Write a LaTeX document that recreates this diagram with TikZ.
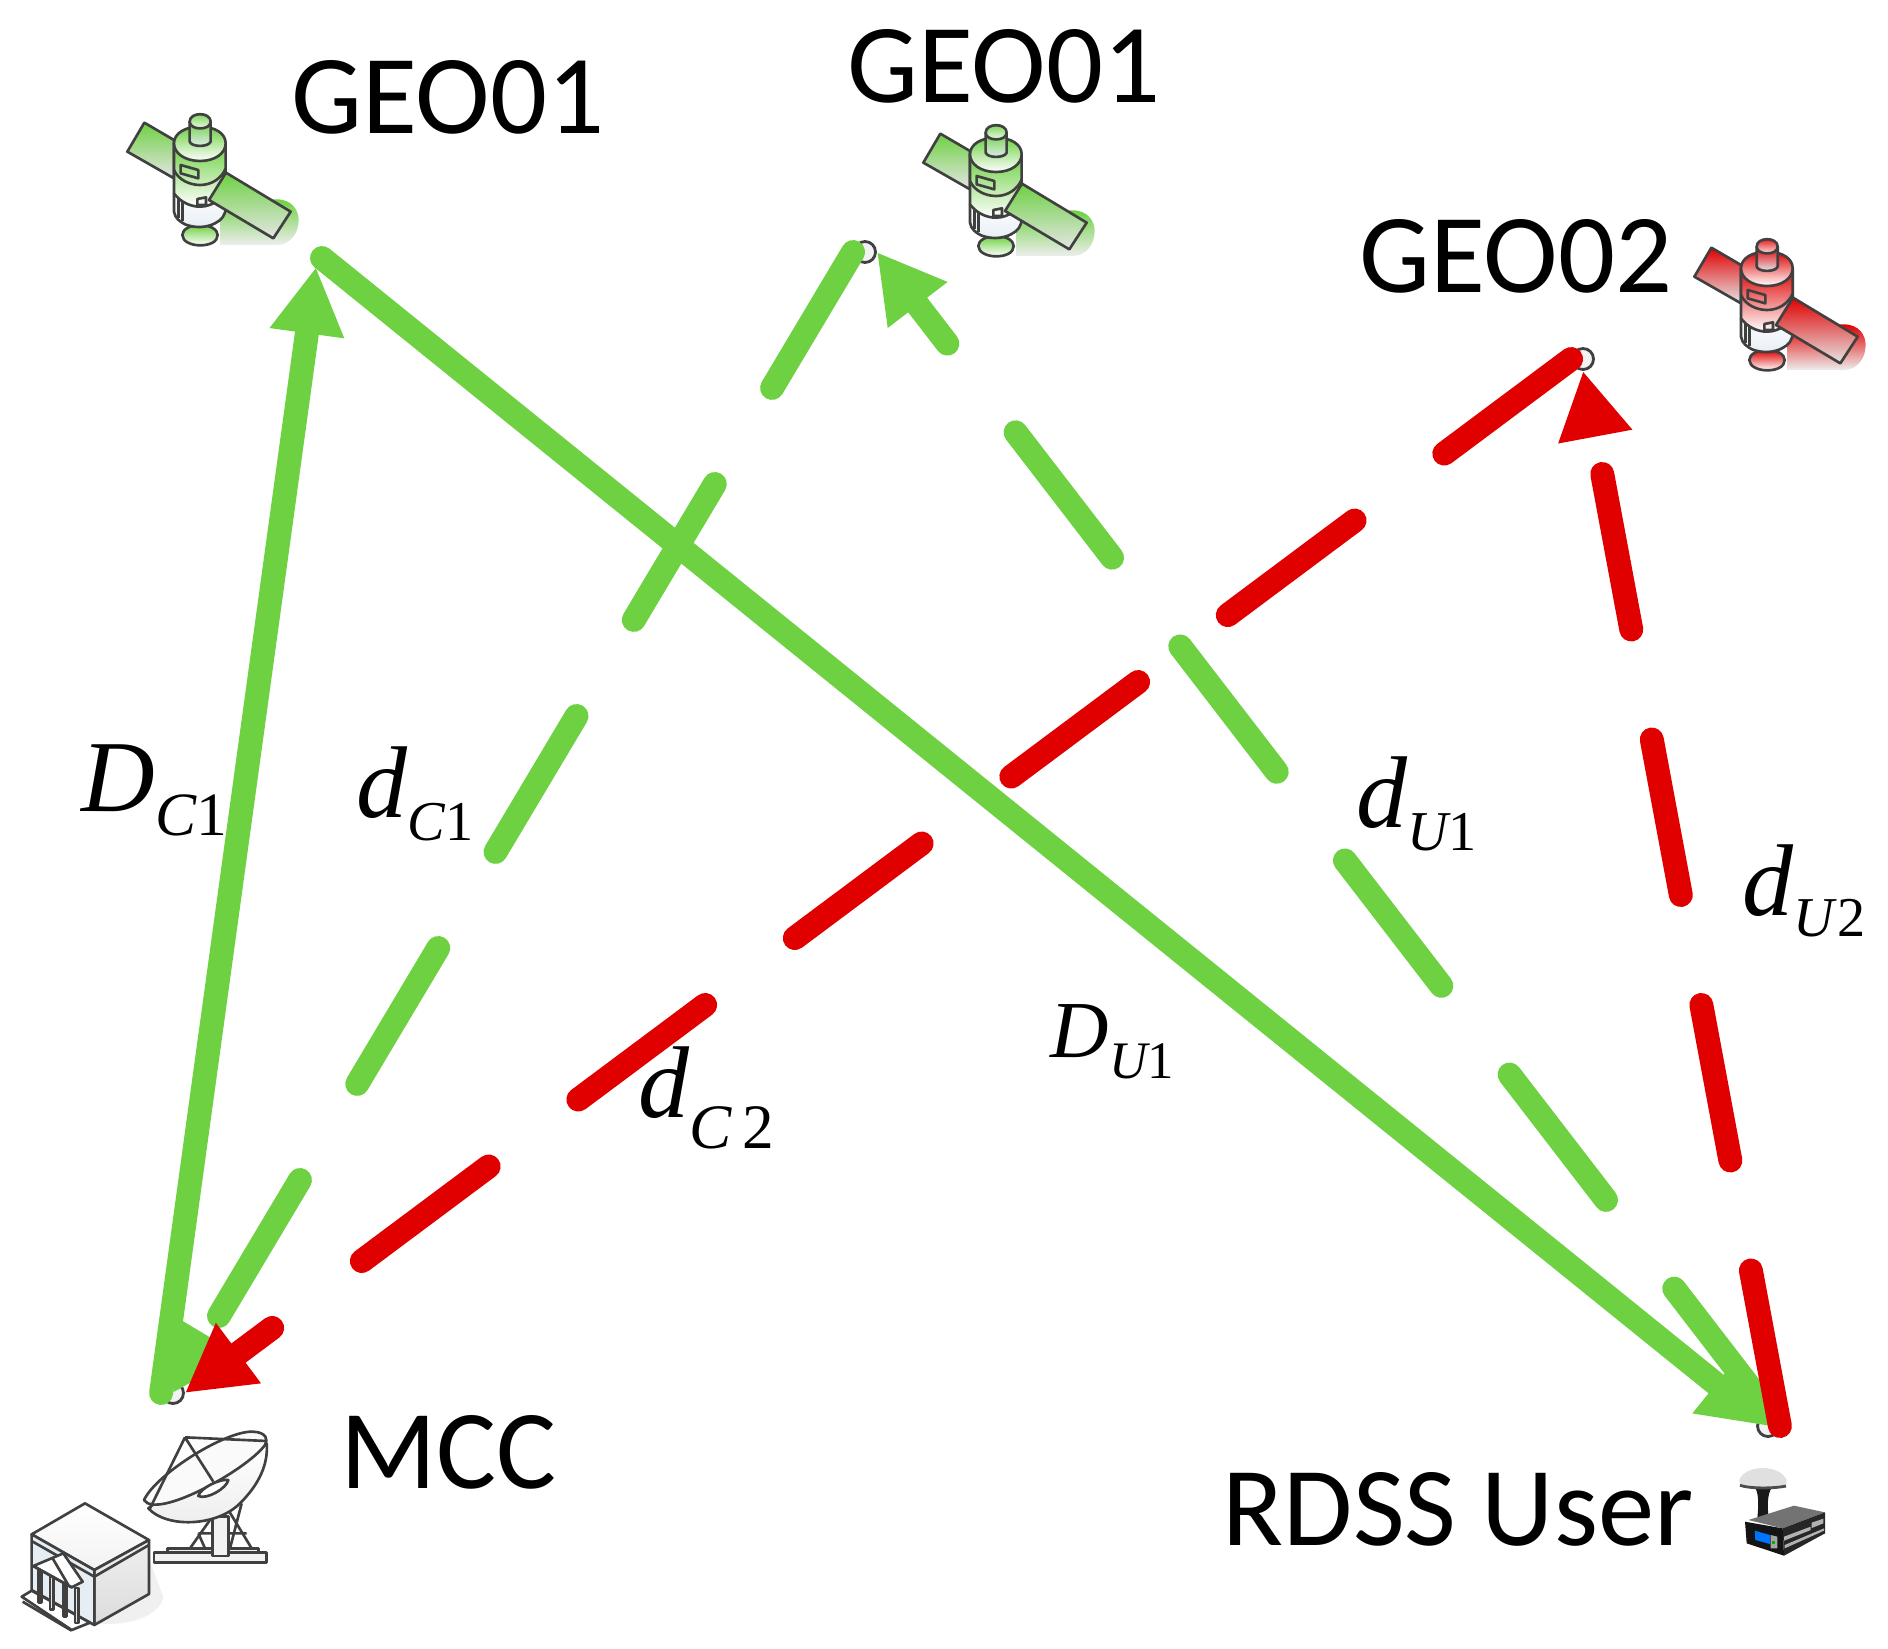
\documentclass[tikz,border=0pt]{standalone}
\usepackage{fontspec}
\setmainfont{Carlito}
\newfontfamily\serfont{Liberation Serif}
\usepackage{xcolor}
\usepackage{tikz}
\usetikzlibrary{
	arrows.meta, % for the link arrows
	shapes.geometric
	}
\definecolor{linkgreen}{HTML}{6DD142}
\definecolor{linkred}{HTML}{E00000}
\definecolor{inkgray}{HTML}{404040}
\definecolor{paleblue}{HTML}{E6EEF4}

% big letter, subscript letter, subscript digit, two font sizes, drop of the subscript
\newcommand{\distlbl}[6]{{\serfont\fontsize{#4}{#4}\selectfont\itshape #1}\raisebox{-#6pt}{\serfont\fontsize{#5}{#5}\selectfont\itshape #2\upshape #3}}

\begin{document}
\begin{tikzpicture}[
		x=0.01cm,y=-0.01cm,
		solidlink/.style={line width=6.8pt,line cap=round},
		dashlink/.style={line width=6.8pt,line cap=round,dash pattern=on 45pt off 31.8pt},
		tipped/.style={-{Triangle[length=19pt,width=20pt]}},
		hub/.style={circle,draw=inkgray,fill=black!5,line width=0.8pt,minimum size=2.1mm,inner sep=0pt},
		site/.style={inner sep=0pt,anchor=base west,font=\fontsize{32}{33}\selectfont},
		dist/.style={inner sep=0pt,anchor=base west},
		ink/.style={draw=inkgray,line width=0.75pt,line join=round},
		pics/satellite/.style={code={
			% coordinates at three times its size
			\begin{scope}[scale=1/3]
				\path[top color=#1,bottom color=black!7] (360,335) -- (530,328) .. controls (575,328) and (596,360) .. (596,390)
					.. controls (596,430) and (570,465) .. (530,465) -- (360,465) -- cycle;
				\draw[ink,top color=#1,bottom color=black!10] (133,98) -- (82,185) -- (222,265) -- (222,150) -- cycle;
				\draw[ink,top color=#1,bottom color=white] (300,405) .. controls (270,405) and (247,418) .. (247,435)
					.. controls (247,455) and (275,466) .. (300,466) .. controls (330,466) and (353,455) .. (353,435) .. controls (353,418) and (330,405) .. (300,405) -- cycle;
				% lower bowl
				\draw[ink,top color=white,bottom color=paleblue] (222,310) -- (222,365) .. controls (225,385) and (240,395) .. (255,403)
					.. controls (285,415) and (320,413) .. (345,400) .. controls (365,390) and (378,375) .. (377,350) -- (377,310) -- cycle;
				\draw[ink] (235,322) -- (235,385) (247,335) -- (247,392);
				% main body
				\draw[ink,top color=#1,bottom color=white] (222,160) -- (222,310) .. controls (240,335) and (270,350) .. (300,350)
					.. controls (340,350) and (377,320) .. (377,290) -- (377,160) -- cycle;
				\draw[ink] (222,240) .. controls (235,270) and (270,285) .. (300,285) .. controls (335,285) and (365,265) .. (377,235);
				\draw[ink,top color=#1,bottom color=white] (300,110) .. controls (255,110) and (222,130) .. (222,160)
					.. controls (222,190) and (255,213) .. (300,213) .. controls (345,213) and (377,190) .. (377,160) .. controls (377,130) and (345,110) .. (300,110) -- cycle;
				\draw[ink] (242,225) -- (295,240) -- (295,265) -- (242,250) -- cycle;
				\draw[ink] (292,327) -- (318,322) -- (318,345) -- (292,345) -- cycle;
				% top stub
				\draw[ink,top color=#1,bottom color=paleblue] (269,95) -- (269,155) .. controls (275,172) and (325,172) .. (332,155) -- (332,95) -- cycle;
				\draw[ink,top color=#1,bottom color=white] (269,95) .. controls (269,65) and (332,65) .. (332,95) .. controls (332,122) and (269,122) .. (269,95) -- cycle;
				% long panel in front
				\draw[ink,top color=#1,bottom color=black!10] (378,248) -- (572,365) -- (520,445) -- (327,330) -- cycle;
			\end{scope}
		}},
	]

	\useasboundingbox (0,0) rectangle (1888,1648);

	%% Satellites
	\pic at (100,90) {satellite=linkgreen};
	\pic at (896,101) {satellite=linkgreen};
	\pic at (1667,215) {satellite=linkred};

	%% Ground station
	\begin{scope}[shift={(0,1340)},scale=1/3]
		\fill[black!6] (290,850) .. controls (380,860) and (480,830) .. (490,770) -- (440,640) -- cycle;
		% building
		\draw[ink,top color=white,bottom color=black!5] (255,490) -- (447,600) -- (283,690) -- (95,583) -- cycle;
		\draw[ink,top color=black!6,bottom color=black!14] (283,690) -- (447,600) -- (447,762) -- (283,855) -- cycle;
		\draw[ink,fill=paleblue] (95,583) -- (283,690) -- (283,855) -- (95,750) -- cycle;
		\draw[ink] (95,603) -- (283,710) -- (447,615);
		\draw[ink,fill=white] (65,770) -- (95,752) -- (270,848) -- (215,870) -- cycle;
		\draw[ink] (68,785) -- (215,872);
		\foreach \col in {115,150,190,225}
			\draw[ink,fill=black!10] (\col,{675+0.55*(\col-100)}) rectangle ++(10,105);
		\draw[ink,fill=white] (100,678) -- (190,640) -- (248,725) -- (215,742) -- cycle;
		\draw[ink] (100,678) -- (215,742) (158,655) -- (205,735);
		% dish on its stand
		\draw[ink] (570,625) -- (630,540) (595,580) -- (615,625) (685,510) -- (755,625) (725,490) -- (690,625) (595,580) -- (740,580);
		\draw[ink,fill=black!5] (502,625) rectangle (776,638);
		\draw[ink,fill=black!5] (462,638) rectangle (800,668);
		\draw[ink,fill=black!5] (637,530) rectangle (686,648);
		\draw[ink,top color=white,bottom color=black!7] (445,505) .. controls (500,565) and (650,560) .. (720,490)
			.. controls (780,430) and (805,370) .. (800,310) -- (700,300) -- cycle;
		\draw[ink,fill=black!2] (432,480) .. controls (470,400) and (680,270) .. (760,275)
			.. controls (800,277) and (805,300) .. (795,315) .. controls (740,390) and (470,540) .. (432,480) -- cycle;
		\draw[ink] (555,292) -- (450,505) (555,292) -- (800,303) (555,292) -- (640,425);
		\draw[ink,fill=white] (595,468) .. controls (600,445) and (660,415) .. (685,420) .. controls (680,445) and (620,480) .. (595,468) -- cycle;
	\end{scope}

	%% User receiver
	\begin{scope}[shift={(1650,1380)},scale=1/3]
		\fill[black!90] (315,322) -- (365,322) .. controls (352,345) and (352,375) .. (355,405) -- (322,415) .. controls (325,380) and (328,345) .. (315,322) -- cycle;
		\fill[black!12] (268,300) .. controls (285,252) and (390,252) .. (410,300) -- (408,318) .. controls (370,326) and (300,326) .. (270,316) -- cycle;
		\draw[black!70,line width=0.8pt] (270,316) .. controls (300,326) and (370,326) .. (408,318);
		\fill[black!55] (295,420) -- (432,377) -- (525,397) -- (398,445) -- cycle;
		\fill[black!85] (398,445) -- (525,397) -- (525,460) -- (402,527) -- cycle;
		\fill[black!92] (285,425) -- (398,445) -- (402,527) -- (290,490) -- cycle;
		\fill[black!30] (402,470) -- (482,440) -- (482,450) -- (402,482) -- cycle;
		\fill[black!30] (485,428) -- (520,416) -- (520,430) -- (485,444) -- cycle;
		\fill[black!30] (404,495) -- (522,445) -- (522,452) -- (404,505) -- cycle;
		\fill[blue!55!cyan] (314,452) -- (360,465) -- (360,492) -- (316,480) -- cycle;
		\fill[black!35] (362,465) -- (382,470) -- (382,505) -- (362,505) -- cycle;
		\fill[green!70!black] (366,482) rectangle (376,492);
	\end{scope}

	%% Link ends
	\coordinate (geoL) at (322,258);
	\coordinate (geoLtip) at (316,267);
	\node[hub] (geoM) at (865,252) {};
	\node[hub] (geoR) at (1583,359) {};
	\node[hub] (mcc) at (173,1393) {};
	\node[hub] (user) at (1768,1426) {};

	%% Links, dashes run from the plain end to the arrow
	\draw[dashlink,linkgreen,tipped,dash phase=72.5pt] (user.east) -- (geoM.east);
	\draw[dashlink,linkgreen,tipped] (geoM.west) -- (mcc.center);
	\draw[solidlink,linkgreen,tipped] (mcc.west) -- (geoLtip);
	\draw[solidlink,linkgreen,tipped] (geoL) -- (user.center);
	\draw[dashlink,linkred,tipped] (geoR.west) -- (mcc.east);
	\draw[dashlink,linkred,tipped] (user.east) -- (geoR.south);

	%% Names
	\node[site] (nameL) at (291,133) {GEO01};
	\node[site] (nameM) at (847,102) {GEO01};
	\node[site] (nameR) at (1359,292) {GEO02};
	\node[site] (nameC) at (340,1488) {MCC};
	\node[site] (nameU) at (1222,1545) {RDSS User};

	%% Distances
	\node[dist] (dC1big) at (81,811) {\distlbl{D}{C}{1}{29}{17.5}{7}};
	\node[dist] (dC1) at (356,817) {\distlbl{d}{C}{1}{29}{16}{6.6}};
	\node[dist] (dU1) at (1356,827) {\distlbl{d}{U}{1}{29}{16}{6.6}};
	\node[dist] (dU2) at (1742,915) {\distlbl{d}{U}{\kern1pt 2}{29}{16}{6.2}};
	\node[dist] (dU1big) at (1050,1057) {\distlbl{D}{U}{1}{23}{15}{6}};
	\node[dist] (dC2) at (638,1117) {\distlbl{d}{C}{\,2}{29}{18}{9}};
\end{tikzpicture}
\end{document}
